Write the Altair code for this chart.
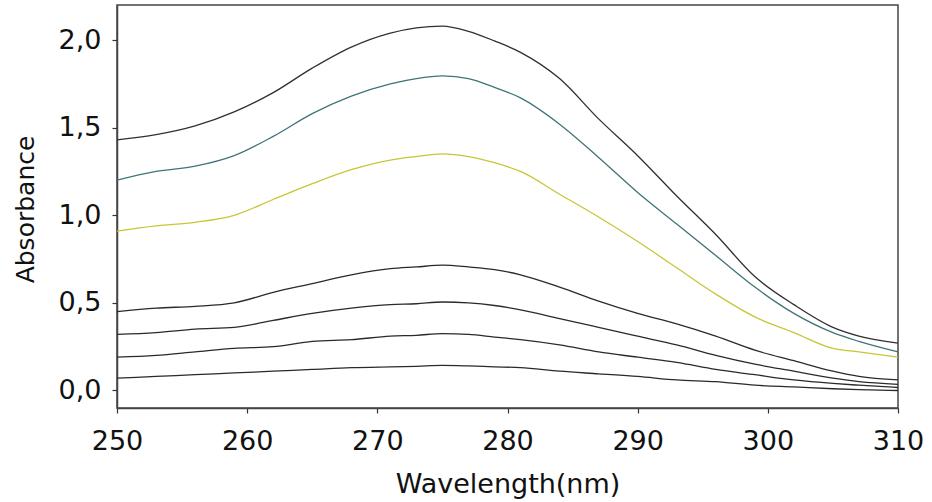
import altair as alt
import pandas as pd

wavelengths = [250, 253, 256, 259, 262, 265, 268, 271, 273, 275, 277, 279, 281,
               284, 287, 290, 293, 296, 299, 302, 305, 307, 310]

s1 = [1.43, 1.46, 1.51, 1.59, 1.70, 1.84, 1.96, 2.04, 2.07, 2.08, 2.05, 1.995, 1.93,
      1.78, 1.55, 1.34, 1.11, 0.89, 0.65, 0.49, 0.36, 0.31, 0.27]
s2 = [1.20, 1.25, 1.28, 1.34, 1.45, 1.58, 1.68, 1.75, 1.78, 1.795, 1.78, 1.73, 1.67,
      1.52, 1.33, 1.13, 0.95, 0.77, 0.59, 0.44, 0.33, 0.28, 0.22]
s3 = [0.91, 0.94, 0.96, 1.00, 1.09, 1.18, 1.26, 1.315, 1.335, 1.35, 1.335, 1.30, 1.25,
      1.12, 0.99, 0.85, 0.70, 0.55, 0.42, 0.33, 0.24, 0.22, 0.19]
s4 = [0.45, 0.47, 0.48, 0.50, 0.56, 0.61, 0.66, 0.695, 0.705, 0.715, 0.705, 0.69, 0.66,
      0.59, 0.51, 0.44, 0.38, 0.31, 0.23, 0.17, 0.11, 0.08, 0.06]
s5 = [0.32, 0.33, 0.35, 0.36, 0.40, 0.44, 0.47, 0.49, 0.495, 0.505, 0.50, 0.485, 0.46,
      0.41, 0.36, 0.31, 0.26, 0.20, 0.15, 0.11, 0.07, 0.05, 0.035]
s6 = [0.19, 0.20, 0.22, 0.24, 0.25, 0.28, 0.29, 0.31, 0.315, 0.325, 0.32, 0.305, 0.29,
      0.26, 0.22, 0.19, 0.16, 0.12, 0.09, 0.06, 0.04, 0.03, 0.017]
s7 = [0.07, 0.08, 0.09, 0.10, 0.11, 0.12, 0.13, 0.135, 0.138, 0.143, 0.14, 0.135, 0.13,
      0.11, 0.095, 0.08, 0.06, 0.05, 0.03, 0.02, 0.01, 0.005, 0.0]

series_names = ["S1", "S2", "S3", "S4", "S5", "S6", "S7"]
series_values = [s1, s2, s3, s4, s5, s6, s7]
series_colors = ["#303030", "#3f7478", "#c8c636", "#2a2a2a", "#2a2a2a", "#2a2a2a", "#2a2a2a"]

rows = []
for name, vals in zip(series_names, series_values):
    for w, v in zip(wavelengths, vals):
        rows.append({"series": name, "wavelength": w, "absorbance": v})
df = pd.DataFrame(rows)

FONT = "DejaVu Sans"

chart = alt.Chart(df).mark_line(strokeWidth=1.3, interpolate="monotone").encode(
    x=alt.X("wavelength:Q",
            scale=alt.Scale(domain=[250, 310], nice=False, zero=False),
            axis=alt.Axis(title="Wavelength(nm)", values=[250, 260, 270, 280, 290, 300, 310],
                          grid=False, tickSize=5, tickColor="#333", tickWidth=1.2,
                          domainColor="#444", domainWidth=1.5,
                          labelFont=FONT, labelFontSize=27, labelColor="#111",
                          labelPadding=15, labelFlush=False,
                          titleFont=FONT, titleFontSize=27, titleFontWeight="normal",
                          titleColor="#111", titleBaseline="alphabetic", titleY=84)),
    y=alt.Y("absorbance:Q",
            scale=alt.Scale(domain=[-0.1, 2.2], nice=False, zero=False),
            axis=alt.Axis(title="Absorbance", values=[0, 0.5, 1.0, 1.5, 2.0],
                          labelExpr="replace(format(datum.value, '.1f'), '.', ',')",
                          grid=False, tickSize=5, tickColor="#333", tickWidth=1.2,
                          domainColor="#444", domainWidth=1.5,
                          labelFont=FONT, labelFontSize=27, labelColor="#111",
                          labelPadding=11, labelFlush=False,
                          titleFont=FONT, titleFontSize=25, titleFontWeight="normal",
                          titleColor="#111", titleAngle=270, titleBaseline="alphabetic",
                          titleAlign="center", titleX=-84, titleY=204)),
    color=alt.Color("series:N", scale=alt.Scale(domain=series_names, range=series_colors),
                    legend=None),
    detail="series:N",
).properties(
    width=781, height=403,
    autosize=alt.AutoSizeParams(type="none"),
    padding={"left": 117, "top": 5, "right": 34, "bottom": 94},
    background="white",
).configure_view(stroke="#444", strokeWidth=1.5)

chart.save("out.html", embed_options={"renderer": "svg", "actions": False})
